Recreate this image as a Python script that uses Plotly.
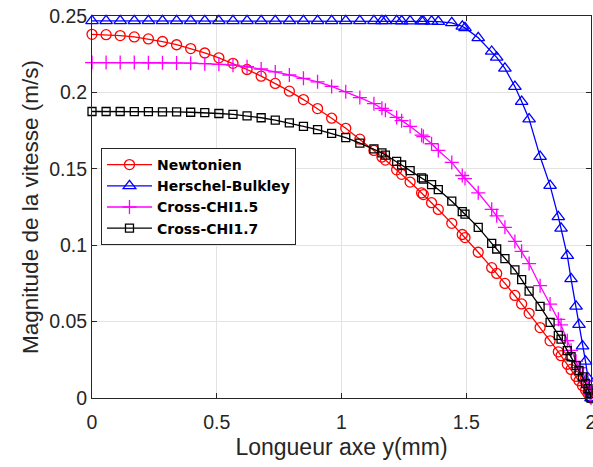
import plotly.graph_objects as go

# common abscissa (mm)
x_mm = [0, 0.0565, 0.113, 0.1695, 0.226, 0.2825, 0.339, 0.3955, 0.452, 0.5085,
        0.565, 0.6215, 0.678, 0.7345, 0.791, 0.8475, 0.904, 0.9605, 1.017, 1.0735,
        1.13, 1.162, 1.176, 1.221, 1.241, 1.275, 1.321, 1.328, 1.361, 1.388,
        1.442, 1.484, 1.495, 1.548, 1.602, 1.622, 1.655, 1.695, 1.722, 1.752,
        1.796, 1.836, 1.869, 1.880, 1.905, 1.920, 1.940, 1.952, 1.966, 1.978,
        1.988, 1.996, 2.0]

newtonien = [0.2380, 0.2378, 0.2372, 0.2363, 0.2350, 0.2333, 0.2312, 0.2287, 0.2258, 0.2226,
             0.2190, 0.2150, 0.2106, 0.2059, 0.2008, 0.1953, 0.1894, 0.1831, 0.1765, 0.1694,
             0.1620, 0.1577, 0.1557, 0.1493, 0.1464, 0.1413, 0.1342, 0.1331, 0.1278, 0.1234,
             0.1143, 0.1070, 0.1050, 0.0954, 0.0853, 0.0815, 0.0750, 0.0671, 0.0616, 0.0554,
             0.0461, 0.0374, 0.0302, 0.0277, 0.0221, 0.0187, 0.0141, 0.0113, 0.0080, 0.0052,
             0.0029, 0.0010, 0.0]

herschel = [0.2468, 0.2468, 0.2468, 0.2468, 0.2468, 0.2468, 0.2468, 0.2468, 0.2468, 0.2468,
            0.2468, 0.2468, 0.2468, 0.2468, 0.2468, 0.2468, 0.2468, 0.2468, 0.2468, 0.2468,
            0.2468, 0.2468, 0.2468, 0.2468, 0.2467, 0.2467, 0.2466, 0.2466, 0.2465, 0.2463,
            0.2455, 0.2432, 0.2422, 0.2357, 0.2268, 0.2229, 0.2157, 0.2038, 0.1940, 0.1825,
            0.1580, 0.1390, 0.1185, 0.1110, 0.0932, 0.0780, 0.0600, 0.0480, 0.0340, 0.0240,
            0.0130, 0.0045, 0.0]

cross15 = [0.2195, 0.2195, 0.2195, 0.2195, 0.2194, 0.2194, 0.2193, 0.2191, 0.2188, 0.2184,
           0.2178, 0.2168, 0.2153, 0.2134, 0.2114, 0.2092, 0.2069, 0.2039, 0.2005, 0.1966,
           0.1926, 0.1896, 0.1883, 0.1836, 0.1815, 0.1778, 0.1720, 0.1711, 0.1664, 0.1620,
           0.1542, 0.1456, 0.1436, 0.1343, 0.1235, 0.1192, 0.1117, 0.1025, 0.0960, 0.0880,
           0.0735, 0.0615, 0.0515, 0.0478, 0.0375, 0.0312, 0.0240, 0.0198, 0.0150, 0.0108,
           0.0072, 0.0025, 0.0]

cross17 = [0.1875, 0.1875, 0.1875, 0.1874, 0.1874, 0.1873, 0.1872, 0.1870, 0.1867, 0.1862,
           0.1856, 0.1847, 0.1834, 0.1818, 0.1800, 0.1778, 0.1757, 0.1732, 0.1704, 0.1668,
           0.1630, 0.1604, 0.1590, 0.1548, 0.1525, 0.1488, 0.1441, 0.1433, 0.1397, 0.1364,
           0.1288, 0.1220, 0.1203, 0.1117, 0.1012, 0.0975, 0.0912, 0.0838, 0.0775, 0.0700,
           0.0599, 0.0495, 0.0410, 0.0385, 0.0310, 0.0270, 0.0212, 0.0180, 0.0138, 0.0095,
           0.0062, 0.0030, 0.0]

series_names = ["Newtonien", "Herschel-Bulkley", "Cross-CHI1.5", "Cross-CHI1.7"]
x_ticks = [0, 0.5, 1, 1.5, 2]
x_ticklabels = ["0", "0.5", "1", "1.5", "2"]
y_ticks = [0, 0.05, 0.1, 0.15, 0.2, 0.25]
y_ticklabels = ["0", "0.05", "0.1", "0.15", "0.2", "0.25"]

styles = [
    dict(color="#ff0000", symbol="circle-open", size=10),
    dict(color="#0000ff", symbol="triangle-up-open", size=11),
    dict(color="#ff00ff", symbol="cross-thin-open", size=10),
    dict(color="#000000", symbol="square-open", size=8),
]

FONT = "Liberation Sans, Arial, sans-serif"

fig = go.Figure()
for name, ys, st in zip(series_names, [newtonien, herschel, cross15, cross17], styles):
    fig.add_trace(go.Scatter(
        x=x_mm, y=ys, mode="lines+markers", name="<b>" + name + "</b>",
        line=dict(color=st["color"], width=1.3),
        marker=dict(symbol=st["symbol"], size=st["size"], color=st["color"],
                    line=dict(color=st["color"], width=1.3)),
        cliponaxis=False,
    ))

axis_common = dict(
    showline=True, linecolor="#262626", linewidth=1, mirror="ticks",
    ticks="inside", ticklen=5, tickcolor="#262626",
    showgrid=True, gridcolor="#e3e3e3", gridwidth=1, zeroline=False,
    automargin=False, ticklabeloverflow="allow",
    tickfont=dict(family=FONT, size=19.5, color="#262626"),
)

fig.update_xaxes(range=[0, 2], tickvals=x_ticks, ticktext=x_ticklabels,
                 ticklabelstandoff=7,
                 title=dict(text="Longueur axe y(mm)", standoff=6,
                            font=dict(family=FONT, size=23, color="#262626")),
                 **axis_common)
fig.update_yaxes(range=[0, 0.25], tickvals=y_ticks, ticktext=y_ticklabels,
                 title=dict(text="Magnitude de la vitesse (m/s)", standoff=4,
                            font=dict(family=FONT, size=22.5, color="#262626")),
                 **axis_common)

fig.update_layout(
    width=593, height=467,
    margin=dict(l=92, r=2, t=16, b=69),
    plot_bgcolor="white", paper_bgcolor="white",
    legend=dict(x=0.018, y=0.6545, xanchor="left", yanchor="top",
                bgcolor="white", bordercolor="#262626", borderwidth=1,
                font=dict(family="DejaVu Sans, Liberation Sans, sans-serif", size=14, color="#000000"),
                itemwidth=45),
)

fig.write_html("out.html", config={"displayModeBar": False},
               post_script="document.body.style.margin='0';document.body.style.overflow='hidden';")
